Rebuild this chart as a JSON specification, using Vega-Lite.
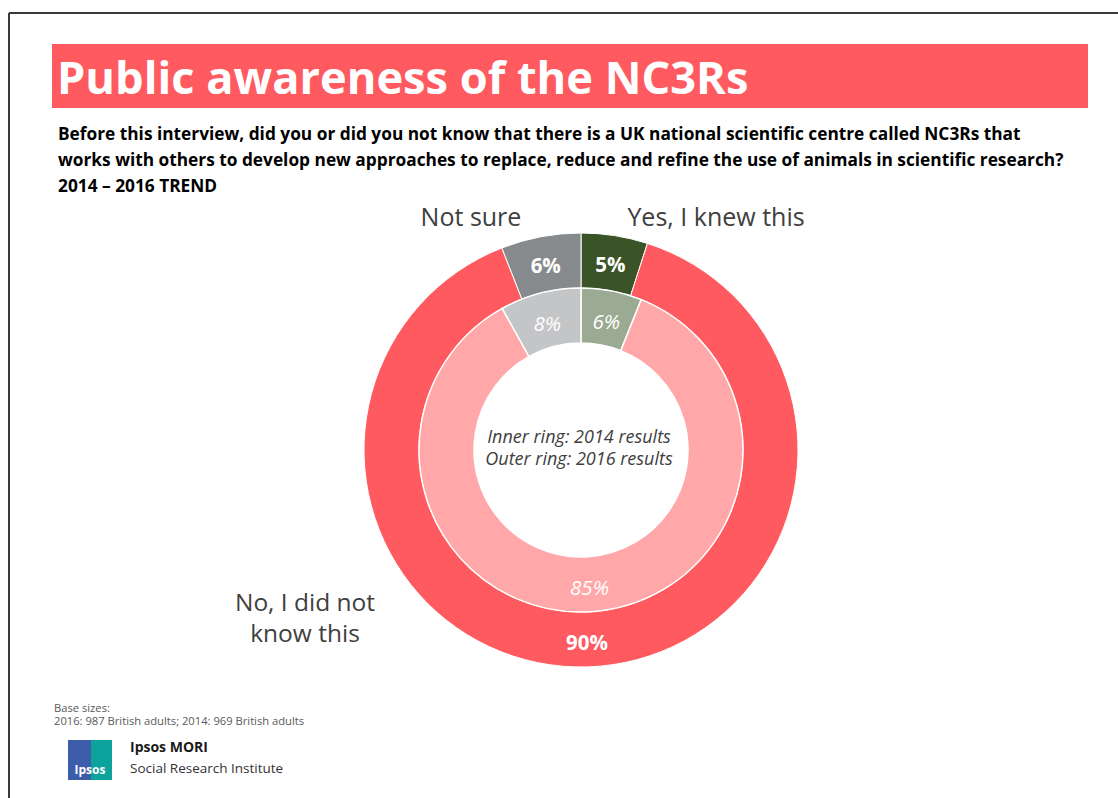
{
  "$schema": "https://vega.github.io/schema/vega-lite/v6.json",
  "width": 1109,
  "height": 785,
  "autosize": "none",
  "padding": {"left": 9, "top": 13, "right": 0, "bottom": 0},
  "background": "white",
  "config": {"view": {"stroke": null}, "font": "Open Sans"},
  "data": {"values": [
    {"ring": "2016", "segment": "Yes, I knew this 2016", "order": 1, "value": 0.05},
    {"ring": "2016", "segment": "No, I did not know this 2016", "order": 2, "value": 0.90},
    {"ring": "2016", "segment": "Not sure 2016", "order": 3, "value": 0.06},
    {"ring": "2014", "segment": "Yes, I knew this 2014", "order": 1, "value": 0.06},
    {"ring": "2014", "segment": "No, I did not know this 2014", "order": 2, "value": 0.85},
    {"ring": "2014", "segment": "Not sure 2014", "order": 3, "value": 0.08}
  ]},
  "layer": [
    {"data": {"values": [{}]}, "mark": {"type": "rule", "color": "#3a3a3a", "strokeWidth": 2},
     "encoding": {"x": {"value": 0}, "y": {"value": 0}, "y2": {"value": 785}}},
    {"data": {"values": [{}]}, "mark": {"type": "rule", "color": "#3a3a3a", "strokeWidth": 2},
     "encoding": {"x": {"value": 0}, "x2": {"value": 1109}, "y": {"value": 0}}},
    {"data": {"values": [{}]}, "mark": {"type": "rect", "color": "#FF5A5F"},
     "encoding": {"x": {"value": 43}, "x2": {"value": 1079}, "y": {"value": 31}, "y2": {"value": 95}}},
    {"data": {"values": [{}]}, "mark": {"type": "text", "text": "Public awareness of the NC3Rs", "color": "white", "fontWeight": "bold", "fontSize": 45.2, "align": "left", "baseline": "alphabetic"},
     "encoding": {"x": {"value": 48}, "y": {"value": 81}}},
    {"data": {"values": [{}]}, "mark": {"type": "text", "text": ["Before this interview, did you or did you not know that there is a UK national scientific centre called NC3Rs that", "works with others to develop new approaches to replace, reduce and refine the use of animals in scientific research?", "2014 – 2016 TREND"], "color": "black", "fontWeight": "bold", "fontSize": 17.3, "lineHeight": 26, "align": "left", "baseline": "alphabetic"},
     "encoding": {"x": {"value": 49}, "y": {"value": 127}}},
    {"transform": [{"filter": "datum.ring == '2016'"}],
     "mark": {"type": "arc", "stroke": "white", "strokeWidth": 1},
     "encoding": {
       "theta": {"field": "value", "type": "quantitative", "stack": "normalize"},
       "order": {"field": "order", "type": "quantitative"},
       "color": {"field": "segment", "type": "nominal", "legend": null,
         "scale": {"domain": ["Yes, I knew this 2016", "No, I did not know this 2016", "Not sure 2016", "Yes, I knew this 2014", "No, I did not know this 2014", "Not sure 2014"],
                   "range": ["#3B5427", "#FF5A5F", "#878A8D", "#9BAA93", "#FFA7A9", "#C4C5C7"]}},
       "radius": {"value": 217}, "radius2": {"value": 162},
       "x": {"value": 572}, "y": {"value": 437}}},
    {"transform": [{"filter": "datum.ring == '2014'"}],
     "mark": {"type": "arc", "stroke": "white", "strokeWidth": 1.5},
     "encoding": {
       "theta": {"field": "value", "type": "quantitative", "stack": "normalize"},
       "order": {"field": "order", "type": "quantitative"},
       "color": {"field": "segment", "type": "nominal", "legend": null},
       "radius": {"value": 162}, "radius2": {"value": 107},
       "x": {"value": 572}, "y": {"value": 437}}},
    {"transform": [{"filter": "datum.ring == '2016'"}],
     "mark": {"type": "text", "color": "white", "fontWeight": "bold", "fontSize": 20.5, "align": "center", "baseline": "middle", "dy": 4},
     "encoding": {
       "theta": {"field": "value", "type": "quantitative", "stack": "normalize"},
       "order": {"field": "order", "type": "quantitative"},
       "text": {"field": "value", "type": "quantitative", "format": ".0%"},
       "radius": {"value": 190},
       "x": {"value": 572}, "y": {"value": 437}}},
    {"transform": [{"filter": "datum.ring == '2014'"}],
     "mark": {"type": "text", "color": "white", "fontStyle": "italic", "fontSize": 20.5, "align": "center", "baseline": "middle", "dy": 5},
     "encoding": {
       "theta": {"field": "value", "type": "quantitative", "stack": "normalize"},
       "order": {"field": "order", "type": "quantitative"},
       "text": {"field": "value", "type": "quantitative", "format": ".0%"},
       "radius": {"value": 134},
       "x": {"value": 572}, "y": {"value": 437}}},
    {"data": {"values": [{}]}, "mark": {"type": "text", "text": "Not sure", "color": "#404040", "fontSize": 25, "align": "center", "baseline": "middle"},
     "encoding": {"x": {"value": 462}, "y": {"value": 205}}},
    {"data": {"values": [{}]}, "mark": {"type": "text", "text": "Yes, I knew this", "color": "#404040", "fontSize": 25, "align": "center", "baseline": "middle"},
     "encoding": {"x": {"value": 707}, "y": {"value": 205}}},
    {"data": {"values": [{}]}, "mark": {"type": "text", "text": ["No, I did not", "know this"], "color": "#404040", "fontSize": 24.5, "lineHeight": 31, "align": "center", "baseline": "middle"},
     "encoding": {"x": {"value": 296}, "y": {"value": 591}}},
    {"data": {"values": [{}]}, "mark": {"type": "text", "text": ["Inner ring: 2014 results", "Outer ring: 2016 results"], "color": "#404040", "fontStyle": "italic", "fontSize": 18, "lineHeight": 22, "align": "center", "baseline": "middle"},
     "encoding": {"x": {"value": 570}, "y": {"value": 425}}},
    {"data": {"values": [{}]}, "mark": {"type": "text", "text": ["Base sizes:", "2016: 987 British adults; 2014: 969 British adults"], "color": "#595959", "fontSize": 11.2, "lineHeight": 13, "align": "left", "baseline": "middle"},
     "encoding": {"x": {"value": 45}, "y": {"value": 696}}},
    {"data": {"values": [{}]}, "mark": {"type": "rect", "color": "#3D5CAA"},
     "encoding": {"x": {"value": 59}, "x2": {"value": 82}, "y": {"value": 727}, "y2": {"value": 767}}},
    {"data": {"values": [{}]}, "mark": {"type": "rect", "color": "#0BA39B"},
     "encoding": {"x": {"value": 82}, "x2": {"value": 103}, "y": {"value": 727}, "y2": {"value": 767}}},
    {"data": {"values": [{}]}, "mark": {"type": "text", "text": "Ipsos", "color": "white", "fontWeight": "bold", "fontSize": 12, "align": "center", "baseline": "middle"},
     "encoding": {"x": {"value": 81}, "y": {"value": 757}}},
    {"data": {"values": [{}]}, "mark": {"type": "text", "text": "Ipsos MORI", "color": "#1a1a1a", "fontWeight": "bold", "fontSize": 14, "align": "left", "baseline": "middle"},
     "encoding": {"x": {"value": 121}, "y": {"value": 735}}},
    {"data": {"values": [{}]}, "mark": {"type": "text", "text": "Social Research Institute", "color": "#333333", "fontSize": 13.5, "align": "left", "baseline": "middle"},
     "encoding": {"x": {"value": 121}, "y": {"value": 756}}}
  ]
}
